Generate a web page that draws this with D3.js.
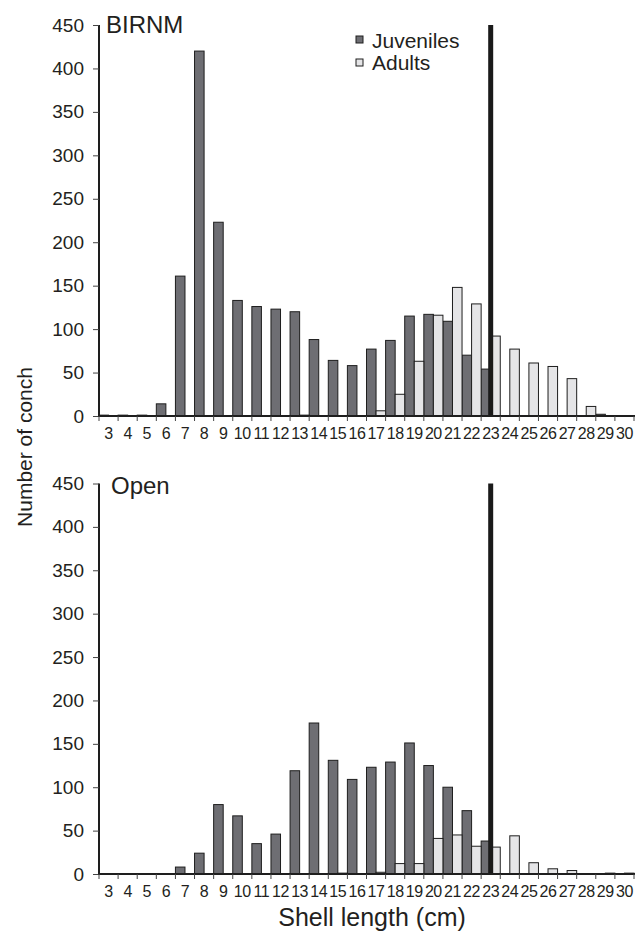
<!DOCTYPE html>
<html>
<head>
<meta charset="utf-8">
<script src="https://cdn.jsdelivr.net/npm/d3@7"></script>
<style>
  body { margin: 0; background: #fff; }
  text { font-family: "Liberation Sans", Arial, Helvetica, sans-serif; fill: #231f20; }
</style>
</head>
<body>
<div id="chart"></div>
<script>
// shell length classes (cm)
var lengths = [3, 4, 5, 6, 7, 8, 9, 10, 11, 12, 13, 14, 15, 16, 17, 18, 19, 20, 21, 22, 23, 24, 25, 26, 27, 28, 29, 30];

// BIRNM counts
var birnmJuveniles = [1, 1, 1, 14, 161, 420, 223, 133, 126, 123, 120, 88, 64, 58, 77, 87, 115, 117, 109, 70, 54, 0, 0, 0, 0, 0, 2, 0];
var birnmAdults    = [0, 0, 0, 0, 0, 0, 0, 0, 0, 0, 1, 0, 0, 0, 6, 25, 63, 116, 148, 129, 92, 77, 61, 57, 43, 11, 0, 0];

// Open counts
var openJuveniles = [0, 0, 0, 0, 8, 24, 80, 67, 35, 46, 119, 174, 131, 109, 123, 129, 151, 125, 100, 73, 38, 0, 0, 0, 0, 0, 0, 0];
var openAdults    = [0, 0, 0, 0, 0, 0, 0, 0, 0, 0, 0, 0, 1, 0, 2, 12, 12, 41, 45, 32, 31, 44, 13, 6, 4, 0, 1, 1];

var yTicks = [0, 50, 100, 150, 200, 250, 300, 350, 400, 450];
var seriesNames = ["Juveniles", "Adults"];
var cutoffLength = 23;

var svgWidth = 642;
var svgHeight = 932;

var svg = d3.select("#chart")
    .append("svg")
    .attr("width", svgWidth)
    .attr("height", svgHeight);

var colors = { Juveniles: "#6e6e73", Adults: "#e5e5e7" };

var x = d3.scaleBand()
    .domain(lengths)
    .range([99, 634])
    .padding(0);
var bw = x.bandwidth();

function drawPanel(title, juv, adu, top, bottom, titleX, titleY) {
    var y = d3.scaleLinear().domain([0, 450]).range([bottom, top]);
    var g = svg.append("g");

    var rows = lengths.map(function(l, i) { return { len: l, juv: juv[i], adu: adu[i] }; });

    // juvenile bars
    g.selectAll("rect.juv")
        .data(rows)
        .enter()
        .append("rect")
        .attr("class", "juv")
        .attr("x", d => x(d.len))
        .attr("width", bw / 2)
        .attr("y", d => y(d.juv))
        .attr("height", d => y(0) - y(d.juv))
        .attr("fill", colors.Juveniles)
        .attr("stroke", "#1e1e1e")
        .attr("stroke-width", 1);

    // adult bars
    g.selectAll("rect.adu")
        .data(rows)
        .enter()
        .append("rect")
        .attr("class", "adu")
        .attr("x", d => x(d.len) + bw / 2)
        .attr("width", bw / 2)
        .attr("y", d => y(d.adu))
        .attr("height", d => y(0) - y(d.adu))
        .attr("fill", colors.Adults)
        .attr("stroke", "#1e1e1e")
        .attr("stroke-width", 1);

    // cutoff line
    g.append("line")
        .attr("x1", x(cutoffLength) + bw / 2)
        .attr("x2", x(cutoffLength) + bw / 2)
        .attr("y1", y(450))
        .attr("y2", y(0))
        .attr("stroke", "#1a1a1a")
        .attr("stroke-width", 5);

    // y axis
    var leftAxis = d3.axisLeft(y).tickValues(yTicks).tickSize(6).tickPadding(9);
    var ya = g.append("g")
        .attr("transform", "translate(99,0)")
        .call(leftAxis);
    ya.select(".domain").attr("stroke", "#1e1e1e").attr("stroke-width", 2).attr("d", `M0,${y(450)}V${y(0)}`);
    ya.selectAll(".tick line").attr("stroke", "#444").attr("stroke-width", 1);
    ya.selectAll(".tick text").attr("font-size", "19px").attr("fill", "#231f20")
        .style("font-family", "'Liberation Sans', Arial, sans-serif");

    // x axis: labels centred in bands, ticks at class boundaries
    var bottomAxis = d3.axisBottom(x).tickSize(0).tickPadding(12);
    var xa = g.append("g")
        .attr("transform", `translate(0,${bottom})`)
        .call(bottomAxis);
    xa.select(".domain").attr("stroke", "#1e1e1e").attr("stroke-width", 2).attr("d", "M98,0H635");
    xa.selectAll(".tick text").attr("font-size", "16px").attr("fill", "#231f20")
        .attr("letter-spacing", "-0.4")
        .style("font-family", "'Liberation Sans', Arial, sans-serif");

    var edges = lengths.map(l => x(l)).concat([x(lengths[lengths.length - 1]) + bw]);
    xa.selectAll("line.edge")
        .data(edges)
        .enter()
        .append("line")
        .attr("class", "edge")
        .attr("x1", d => d)
        .attr("x2", d => d)
        .attr("y1", 0)
        .attr("y2", 5)
        .attr("stroke", "#444")
        .attr("stroke-width", 1);

    // panel title
    g.append("text")
        .attr("x", titleX)
        .attr("y", titleY)
        .attr("font-size", "24px")
        .text(title);

    return y;
}

drawPanel("BIRNM", birnmJuveniles, birnmAdults, 25, 416, 106, 33);
drawPanel("Open", openJuveniles, openAdults, 483.5, 874, 111, 493.5);

// legend
var legend = svg.append("g");
seriesNames.forEach(function(name, i) {
    legend.append("rect")
        .attr("x", 356)
        .attr("y", 36 + i * 23)
        .attr("width", 7)
        .attr("height", 7)
        .attr("fill", colors[name])
        .attr("stroke", "#1e1e1e")
        .attr("stroke-width", 1);
    legend.append("text")
        .attr("x", 372)
        .attr("y", 48 + i * 22)
        .attr("font-size", "21px")
        .text(name);
});

// axis titles
svg.append("text")
    .attr("transform", "rotate(-90)")
    .attr("x", -447)
    .attr("y", 32)
    .attr("text-anchor", "middle")
    .attr("font-size", "21px")
    .text("Number of conch");

svg.append("text")
    .attr("x", 372)
    .attr("y", 926)
    .attr("text-anchor", "middle")
    .attr("font-size", "25px")
    .text("Shell length (cm)");
</script>
</body>
</html>
